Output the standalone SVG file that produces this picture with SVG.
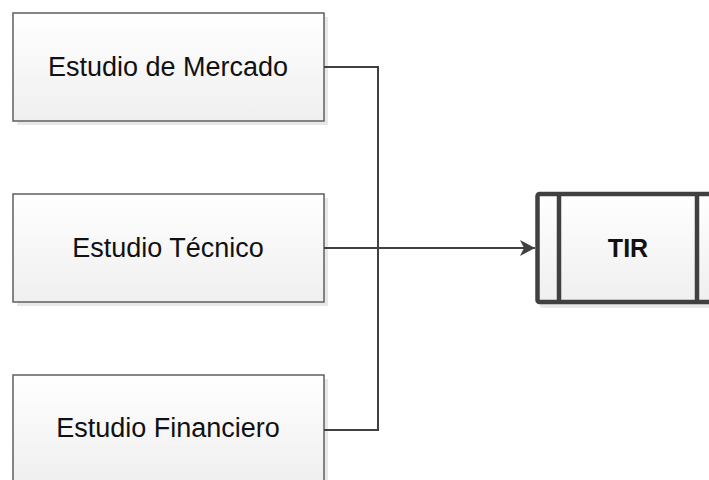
<svg xmlns="http://www.w3.org/2000/svg" width="709" height="480" viewBox="0 0 709 480">
<defs>
<linearGradient id="g" x1="0" y1="0" x2="0" y2="1">
<stop offset="0" stop-color="#ffffff"/>
<stop offset="1" stop-color="#efefef"/>
</linearGradient>
<marker id="arr" markerWidth="16" markerHeight="16" refX="15" refY="8" orient="auto" markerUnits="userSpaceOnUse">
<path d="M0,0 L15,8 L0,16 L4,8 Z" fill="#404040"/>
</marker>
<style>
.shadow{fill:#e8e8e8}
.box{fill:url(#g);stroke:#5f5f5f;stroke-width:1.5}
.lbl{font-family:"Liberation Sans",Arial,sans-serif;font-size:27px;fill:#111;text-anchor:middle}
.tir{font-family:"Liberation Sans",Arial,sans-serif;font-size:25px;font-weight:bold;fill:#111;text-anchor:middle}
.conn{fill:none;stroke:#404040;stroke-width:2}
.thick{stroke:#404040;stroke-width:4.5}
.tirbox{fill:url(#g);stroke:#404040;stroke-width:4.5}
</style>
</defs>
<rect width="709" height="480" fill="#ffffff"/>
<g id="mercado">
<rect class="shadow" x="17" y="17" width="311" height="108"/>
<rect class="box" x="13" y="13" width="311" height="108"/>
<text class="lbl" x="168" y="76">Estudio de Mercado</text>
</g>
<g id="tecnico">
<rect class="shadow" x="17" y="198" width="311" height="108"/>
<rect class="box" x="13" y="194" width="311" height="108"/>
<text class="lbl" x="168" y="257">Estudio Técnico</text>
</g>
<g id="financiero">
<rect class="shadow" x="17" y="379" width="311" height="108"/>
<rect class="box" x="13" y="375" width="311" height="108"/>
<text class="lbl" x="168" y="437">Estudio Financiero</text>
</g>
<g id="tir">
<rect x="540" y="197" width="172" height="111" rx="2" fill="#e8e8e8"/>
<rect class="tirbox" x="537.5" y="194" width="175" height="108" rx="2"/>
<line class="thick" x1="559" y1="194" x2="559" y2="302"/>
<line class="thick" x1="697" y1="194" x2="697" y2="302"/>
<text class="tir" x="628" y="257">TIR</text>
</g>
<g id="connectors">
<path class="conn" d="M324,67 H378 V430 H324"/>
<path class="conn" d="M324,248 H378"/>
<path class="conn" d="M378,248 H535" stroke-width="2.5" marker-end="url(#arr)"/>
</g>
</svg>
